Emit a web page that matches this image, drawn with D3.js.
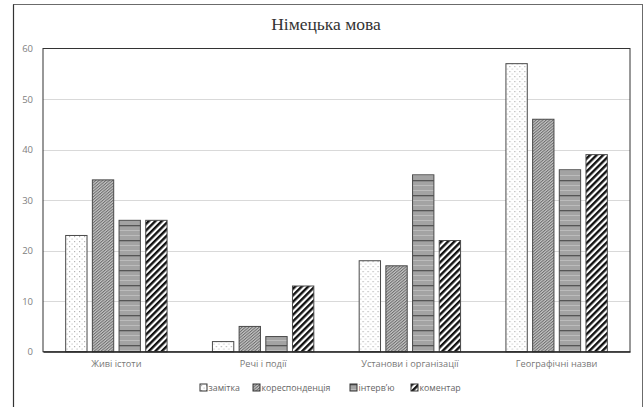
<!DOCTYPE html>
<html>
<head>
<meta charset="utf-8">
<script src="https://cdn.jsdelivr.net/npm/d3@7"></script>
<style>
  html, body { margin: 0; padding: 0; background: #fff; }
  svg { display: block; }
</style>
</head>
<body>
<svg id="chart" width="644" height="407"></svg>
<script>
// Categories, series names and values
const categories = ["Живі істоти", "Речі і події", "Установи і організації", "Географічні назви"];
const seriesNames = ["замітка", "кореспонденція", "інтерв’ю", "коментар"];
const zamitka = [23, 2, 18, 57];
const korespondentsiia = [34, 5, 17, 46];
const interviu = [26, 3, 35, 36];
const komentar = [26, 13, 22, 39];
const yTicks = [0, 10, 20, 30, 40, 50, 60];

const seriesValues = [zamitka, korespondentsiia, interviu, komentar];
const patternIds = ["pat-dots", "pat-fine", "pat-hstripe", "pat-wide"];

const svg = d3.select("#chart");
const W = 644, H = 407;
const plot = { left: 43, right: 630, top: 48.5, bottom: 351.7 };

// Fill patterns
const defs = svg.append("defs");
{
  const p = defs.append("pattern").attr("id", "pat-dots").attr("patternUnits", "userSpaceOnUse")
    .attr("width", 5).attr("height", 5);
  p.append("rect").attr("width", 5).attr("height", 5).attr("fill", "#fff");
  p.append("rect").attr("x", 1).attr("y", 1).attr("width", 1.2).attr("height", 1.2).attr("fill", "#b4b4b4");
  p.append("rect").attr("x", 3.5).attr("y", 3.5).attr("width", 1.2).attr("height", 1.2).attr("fill", "#c8c8c8");
}
{
  const p = defs.append("pattern").attr("id", "pat-fine").attr("patternUnits", "userSpaceOnUse")
    .attr("width", 2.2).attr("height", 2.2).attr("patternTransform", "rotate(-40)");
  p.append("rect").attr("width", 2.2).attr("height", 2.2).attr("fill", "#c4c4c4");
  p.append("rect").attr("width", 2.2).attr("height", 1).attr("fill", "#6e6e6e");
}
{
  const p = defs.append("pattern").attr("id", "pat-hstripe").attr("patternUnits", "userSpaceOnUse")
    .attr("width", 8).attr("height", 15);
  p.append("rect").attr("width", 8).attr("height", 15).attr("fill", "#a3a3a3");
  p.append("rect").attr("y", 0).attr("width", 8).attr("height", 1.3).attr("fill", "#555");
  p.append("rect").attr("y", 5).attr("width", 8).attr("height", 1).attr("fill", "#bcbcbc");
  p.append("rect").attr("y", 10).attr("width", 8).attr("height", 1).attr("fill", "#bcbcbc");
}
{
  const p = defs.append("pattern").attr("id", "pat-wide").attr("patternUnits", "userSpaceOnUse")
    .attr("width", 4.6).attr("height", 10).attr("patternTransform", "rotate(45)");
  p.append("rect").attr("width", 4.6).attr("height", 10).attr("fill", "#fff");
  p.append("rect").attr("width", 2.4).attr("height", 10).attr("fill", "#111");
}

// Outer chart frame
svg.append("rect")
  .attr("x", 13.5).attr("y", 4.5).attr("width", 629).attr("height", 420)
  .attr("fill", "none").attr("stroke", "#6b6b6b").attr("stroke-width", 1);
svg.append("line").attr("x1", 13.5).attr("x2", 13.5).attr("y1", 4.5).attr("y2", H)
  .attr("stroke", "#333").attr("stroke-width", 1.2);

// Title
svg.append("text")
  .attr("x", 326).attr("y", 30)
  .attr("text-anchor", "middle")
  .attr("font-family", "'Liberation Serif', 'Times New Roman', serif")
  .attr("font-size", 17.5).attr("fill", "#333")
  .text("Німецька мова");

// Scales
const y = d3.scaleLinear().domain([0, 60]).range([plot.bottom, plot.top]);
const x0 = d3.scaleBand().domain(categories).range([plot.left, plot.right]).padding(0);
const x1 = d3.scaleBand().domain(seriesNames).range([0, x0.bandwidth()])
  .paddingInner(0.2).paddingOuter(0.85);

// Gridlines
svg.append("g").selectAll("line")
  .data(yTicks.filter(t => t > 0 && t < 60))
  .join("line")
  .attr("x1", plot.left).attr("x2", plot.right)
  .attr("y1", d => Math.round(y(d)) + 0.5).attr("y2", d => Math.round(y(d)) + 0.5)
  .attr("stroke", "#d9d9d9").attr("stroke-width", 1);

// Y axis labels
const yAxis = d3.axisLeft(y).tickValues(yTicks).tickSize(0).tickPadding(10);
const gy = svg.append("g").attr("transform", `translate(${plot.left},0)`).call(yAxis);
gy.select(".domain").remove();
gy.selectAll("text")
  .attr("font-family", "'Open Sans', 'Liberation Sans', sans-serif")
  .attr("font-size", 9.5).attr("fill", "#808080");

// Bars
const groups = svg.append("g").selectAll("g")
  .data(categories)
  .join("g")
  .attr("transform", d => `translate(${x0(d)},0)`);

groups.selectAll("rect")
  .data((c, ci) => seriesNames.map((s, si) => ({ s, si, v: seriesValues[si][ci] })))
  .join("rect")
  .attr("x", d => x1(d.s))
  .attr("y", d => y(d.v))
  .attr("width", x1.bandwidth())
  .attr("height", d => y(0) - y(d.v))
  .attr("fill", d => `url(#${patternIds[d.si]})`)
  .attr("stroke", "#4a4a4a").attr("stroke-width", 1);

// Plot frame and baseline
svg.append("rect")
  .attr("x", plot.left).attr("y", plot.top)
  .attr("width", plot.right - plot.left).attr("height", plot.bottom - plot.top)
  .attr("fill", "none").attr("stroke", "#333").attr("stroke-width", 1);

// X axis labels
const xAxis = d3.axisBottom(x0).tickSize(0).tickPadding(9);
const gx = svg.append("g").attr("transform", `translate(0,${plot.bottom})`).call(xAxis);
gx.select(".domain").attr("stroke", "#222").attr("stroke-width", 1.2);
gx.selectAll("text")
  .attr("font-family", "'Open Sans', 'Liberation Sans', sans-serif")
  .attr("font-size", 9.2).attr("fill", "#777");

// Legend
const legendX = [200, 253, 350, 411];
const legend = svg.append("g").selectAll("g")
  .data(seriesNames)
  .join("g")
  .attr("transform", (d, i) => `translate(${legendX[i]},384)`);
legend.append("rect")
  .attr("width", 7).attr("height", 7)
  .attr("fill", (d, i) => `url(#${patternIds[i]})`)
  .attr("stroke", "#333").attr("stroke-width", 1);
legend.append("text")
  .attr("x", 8.5).attr("y", 7)
  .attr("font-family", "'Open Sans', 'Liberation Sans', sans-serif")
  .attr("font-size", 8.8).attr("fill", "#666")
  .text(d => d);
</script>
</body>
</html>
